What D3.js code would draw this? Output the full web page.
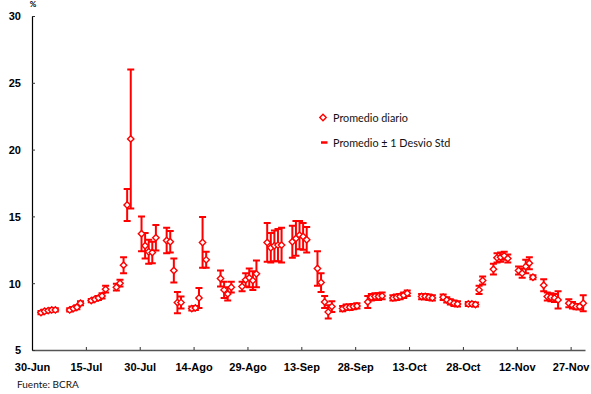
<!DOCTYPE html>
<html>
<head>
<meta charset="utf-8">
<script src="https://cdn.jsdelivr.net/npm/d3@7"></script>
<style>
  html, body { margin: 0; padding: 0; background: #fff; }
  svg { display: block; font-family: Lato, "Open Sans", sans-serif; }
</style>
</head>
<body>
<svg id="chart" width="591" height="394"></svg>
<script>
// Business days (2001)
const fechas = [
  "2001-07-02","2001-07-03","2001-07-04","2001-07-05","2001-07-06",
  "2001-07-10","2001-07-11","2001-07-12","2001-07-13",
  "2001-07-16","2001-07-17","2001-07-18","2001-07-19","2001-07-20",
  "2001-07-23","2001-07-24","2001-07-25","2001-07-26","2001-07-27",
  "2001-07-30","2001-07-31","2001-08-01","2001-08-02","2001-08-03",
  "2001-08-06","2001-08-07","2001-08-08","2001-08-09","2001-08-10",
  "2001-08-13","2001-08-14","2001-08-15","2001-08-16","2001-08-17",
  "2001-08-21","2001-08-22","2001-08-23","2001-08-24",
  "2001-08-27","2001-08-28","2001-08-29","2001-08-30","2001-08-31",
  "2001-09-03","2001-09-04","2001-09-05","2001-09-06","2001-09-07",
  "2001-09-10","2001-09-11","2001-09-12","2001-09-13","2001-09-14",
  "2001-09-17","2001-09-18","2001-09-19","2001-09-20","2001-09-21",
  "2001-09-24","2001-09-25","2001-09-26","2001-09-27","2001-09-28",
  "2001-10-01","2001-10-02","2001-10-03","2001-10-04","2001-10-05",
  "2001-10-08","2001-10-09","2001-10-10","2001-10-11","2001-10-12",
  "2001-10-16","2001-10-17","2001-10-18","2001-10-19",
  "2001-10-22","2001-10-23","2001-10-24","2001-10-25","2001-10-26",
  "2001-10-29","2001-10-30","2001-10-31","2001-11-01","2001-11-02",
  "2001-11-05","2001-11-06","2001-11-07","2001-11-08","2001-11-09",
  "2001-11-12","2001-11-13","2001-11-14","2001-11-15","2001-11-16",
  "2001-11-19","2001-11-20","2001-11-21","2001-11-22","2001-11-23",
  "2001-11-26","2001-11-27","2001-11-28","2001-11-29","2001-11-30"
];

// Daily average rate (%)
const promedio = [
  7.8, 7.9, 7.95, 8.0, 8.0,
  8.0, 8.1, 8.2, 8.5,
  8.7, 8.8, 8.9, 9.05, 9.55,
  9.7, 10.0, 11.35, 15.85, 20.8,
  13.7, 12.8, 12.35, 12.3, 13.4,
  13.2, 13.1, 10.95, 8.55, 8.55,
  8.1, 8.15, 8.9, 13.05, 11.75,
  10.35, 9.5, 9.2, 9.7,
  9.75, 10.25, 10.4, 10.2, 10.7,
  13.05, 12.65, 12.8, 12.85, 12.85,
  13.1, 13.35, 13.6, 13.5, 13.25,
  11.1, 10.05, 8.6, 7.85, 8.25,
  8.1, 8.2, 8.2, 8.25, 8.3,
  8.6, 8.95, 9.0, 9.0, 9.05,
  8.9, 8.95, 9.0, 9.1, 9.25,
  9.0, 9.0, 8.95, 8.9,
  8.95, 8.75, 8.6, 8.5, 8.45,
  8.45, 8.45, 8.4, 9.5, 10.2,
  11.05, 11.9, 11.95, 12.05, 11.85,
  10.95, 10.75, 11.25, 11.5, 10.45,
  9.85, 9.0, 8.95, 8.9, 8.75,
  8.5, 8.35, 8.25, 8.25, 8.5
];

// One standard deviation around the daily average
const desvio = [
  0.12, 0.12, 0.12, 0.12, 0.12,
  0.12, 0.12, 0.15, 0.15,
  0.12, 0.12, 0.15, 0.2, 0.25,
  0.25, 0.25, 0.6, 1.2, 5.2,
  1.3, 0.95, 0.9, 0.8, 0.95,
  0.95, 0.8, 0.9, 0.8, 0.45,
  0.15, 0.15, 0.75, 1.9, 0.6,
  0.6, 0.6, 0.5, 0.4,
  0.35, 0.5, 0.7, 0.7, 1.0,
  1.45, 1.1, 1.15, 1.2, 1.3,
  1.2, 1.3, 1.05, 1.0, 0.95,
  1.3, 0.7, 0.45, 0.5, 0.4,
  0.2, 0.2, 0.2, 0.2, 0.2,
  0.45, 0.25, 0.25, 0.25, 0.25,
  0.2, 0.2, 0.2, 0.2, 0.2,
  0.2, 0.2, 0.2, 0.2,
  0.2, 0.2, 0.2, 0.2, 0.2,
  0.15, 0.15, 0.15, 0.3, 0.3,
  0.4, 0.35, 0.35, 0.3, 0.3,
  0.3, 0.35, 0.5, 0.45, 0.15,
  0.45, 0.3, 0.3, 0.3, 0.65,
  0.3, 0.25, 0.2, 0.2, 0.6
];

const xTickFechas = ["2001-06-30","2001-07-15","2001-07-30","2001-08-14","2001-08-29",
  "2001-09-13","2001-09-28","2001-10-13","2001-10-28","2001-11-12","2001-11-27"];
const xTickLabels = ["30-Jun","15-Jul","30-Jul","14-Ago","29-Ago","13-Sep",
  "28-Sep","13-Oct","28-Oct","12-Nov","27-Nov"];
const yTicks = [5, 10, 15, 20, 25, 30];

const legendLabels = ["Promedio diario", "Promedio \u00B1 1 Desvio Std"];

const RED = "#ff0000";
const parse = d3.utcParse("%Y-%m-%d");

// each observation is placed at the middle of its day
const data = fechas.map((f, i) => ({
  fecha: d3.utcHour.offset(parse(f), 12), v: promedio[i], sd: desvio[i]
}));

const svg = d3.select("#chart");

const x = d3.scaleUtc()
  .domain([parse("2001-06-30"), parse("2001-12-01")])
  .range([32, 585]);

const y = d3.scaleLinear()
  .domain([5, 30])
  .range([350, 16]);

// X axis
const xTicks = xTickFechas.map(parse);
const gx = svg.append("g")
  .attr("transform", "translate(0,350)")
  .call(d3.axisBottom(x)
    .tickValues(xTicks)
    .tickSizeInner(-3)
    .tickSizeOuter(0)
    .tickFormat((d, i) => xTickLabels[i]));
gx.select(".domain").attr("stroke", "#555").attr("stroke-width", 1.5);
gx.selectAll(".tick line").attr("stroke", "#333").attr("stroke-width", 1);
gx.selectAll(".tick text")
  .attr("y", 21).attr("dy", 0)
  .attr("fill", "#000")
  .style("font-size", "11px")
  .style("font-weight", "bold");

// Y axis
const gy = svg.append("g")
  .attr("transform", "translate(32,0)")
  .call(d3.axisLeft(y)
    .tickValues(yTicks)
    .tickSizeInner(-3)
    .tickSizeOuter(0)
    .tickPadding(11)
    .tickFormat(d3.format("d")));
gy.select(".domain").attr("stroke", "#000").attr("stroke-width", 1.2);
gy.selectAll(".tick line").attr("stroke", "#333");
gy.selectAll(".tick text")
  .attr("fill", "#000")
  .attr("dy", "0.36em")
  .style("font-size", "11px")
  .style("font-weight", "bold");

svg.append("text")
  .attr("x", 33).attr("y", 7)
  .attr("text-anchor", "middle")
  .style("font-size", "8px")
  .style("font-weight", "bold")
  .text("%");

// Error bars
const cap = 3.5;
const bars = svg.append("g")
  .attr("stroke", RED)
  .attr("stroke-width", 2)
  .attr("fill", "none");
bars.selectAll("path")
  .data(data)
  .join("path")
  .attr("d", d => {
    const cx = x(d.fecha), y0 = y(d.v - d.sd), y1 = y(d.v + d.sd);
    return `M${cx},${y0}V${y1}M${cx - cap},${y1}H${cx + cap}M${cx - cap},${y0}H${cx + cap}`;
  });

// Diamonds for the daily average
const diamond = (cx, cy, r) => `M${cx},${cy - r}L${cx + r},${cy}L${cx},${cy + r}L${cx - r},${cy}Z`;
svg.append("g")
  .selectAll("path")
  .data(data)
  .join("path")
  .attr("d", d => diamond(x(d.fecha), y(d.v), 3.2))
  .attr("fill", "#fff")
  .attr("stroke", RED)
  .attr("stroke-width", 1.4);

// Legend
const lg = svg.append("g");
lg.append("path")
  .attr("d", diamond(323, 117.5, 3.2))
  .attr("fill", "#fff").attr("stroke", RED).attr("stroke-width", 1.4);
lg.append("line")
  .attr("x1", 321).attr("x2", 327.5).attr("y1", 142.5).attr("y2", 142.5)
  .attr("stroke", RED).attr("stroke-width", 2.5);
lg.selectAll("text")
  .data(legendLabels)
  .join("text")
  .attr("x", 333)
  .attr("y", (d, i) => 122 + i * 24.5)
  .style("font-size", "10.8px")
  .attr("fill", "#111")
  .text(d => d);

// Source note
svg.append("text")
  .attr("x", 17).attr("y", 388)
  .style("font-size", "10px")
  .attr("fill", "#111")
  .text("Fuente: BCRA");
</script>
</body>
</html>
